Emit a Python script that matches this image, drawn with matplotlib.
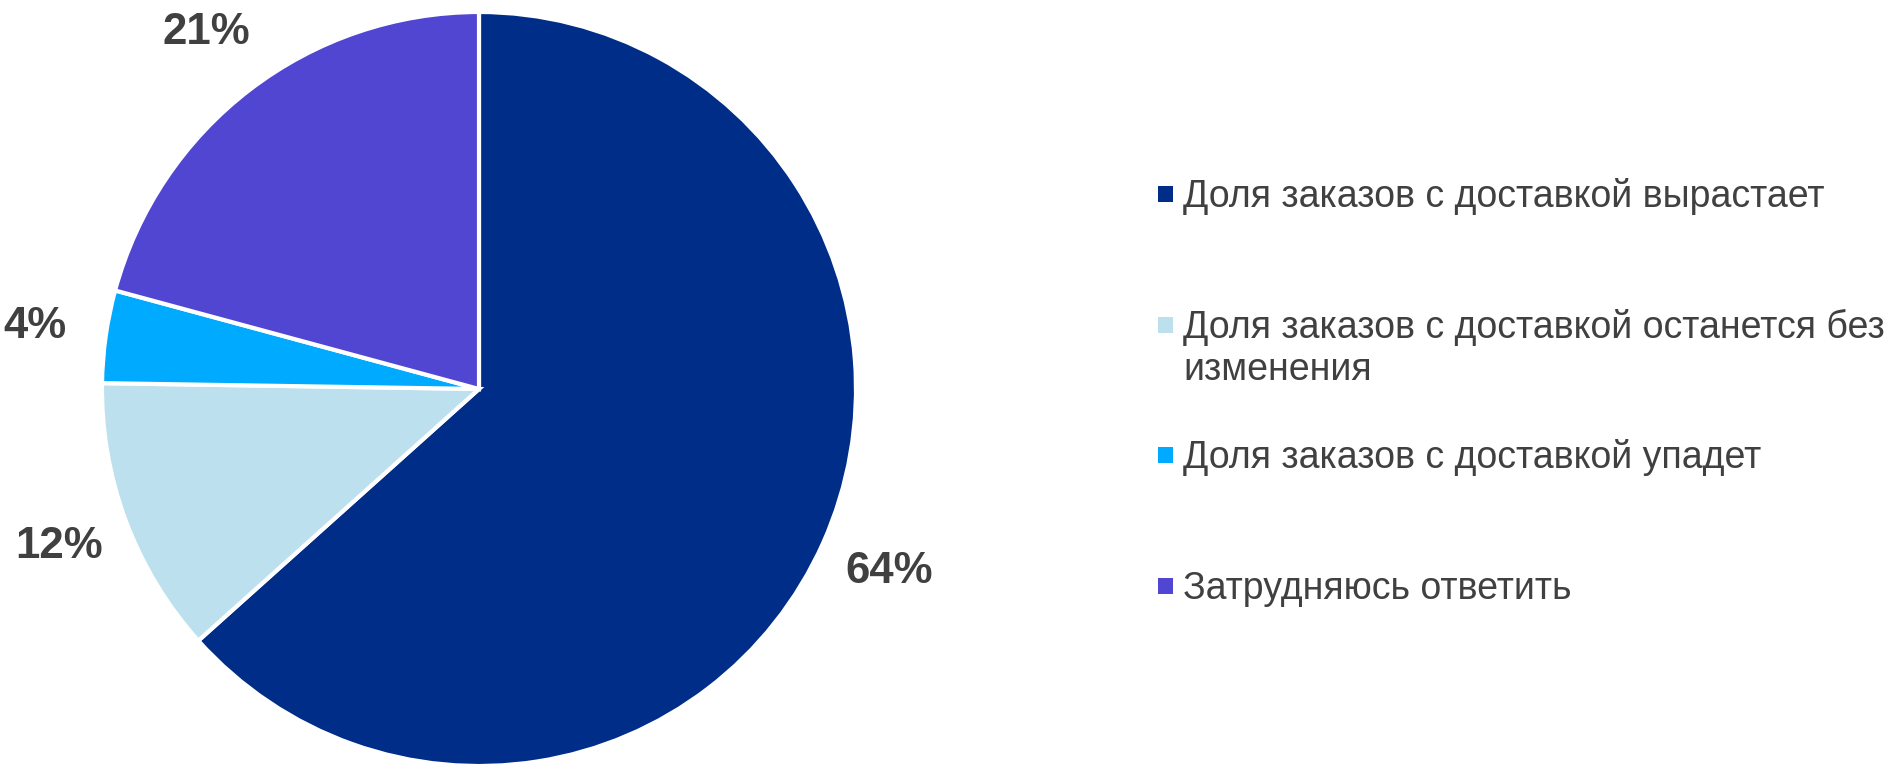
import matplotlib
matplotlib.use("Agg")
import numpy as np
import matplotlib.pyplot as plt
from matplotlib.patches import Rectangle

plt.rcParams["font.family"] = ["Liberation Sans", "DejaVu Sans"]

categories = [
    "Доля заказов с доставкой вырастает",
    "Доля заказов с доставкой останется без\nизменения",
    "Доля заказов с доставкой упадет",
    "Затрудняюсь ответить",
]
values = [64, 12, 4, 21]
colors = ["#002D87", "#BDE0EE", "#00AAFF", "#5046D2"]
pct_labels = ["64%", "12%", "4%", "21%"]

text_color = "#404040"

W, H = 1887, 764
fig = plt.figure(figsize=(W / 100, H / 100), dpi=100)

# pie axes: center (479, 389) px, radius 377 px
cx, cy, r = 479, 389, 377
ax = fig.add_axes([(cx - r) / W, (H - cy - r) / H, 2 * r / W, 2 * r / H])

wedges, _ = ax.pie(
    values,
    colors=colors,
    startangle=90,
    counterclock=False,
    wedgeprops=dict(edgecolor="white", linewidth=3),
)
ax.set_xlim(-1, 1)
ax.set_ylim(-1, 1)
ax.set_aspect("equal")
ax.axis("off")

# percentage labels outside the wedges
total = sum(values)
angle = 90.0
for w, lab in zip(values, pct_labels):
    span = w / total * 360
    mid = np.deg2rad(angle - span / 2)
    angle -= span
    d = 1.19
    ax.text(d * np.cos(mid), d * np.sin(mid), lab, ha="center", va="center",
            fontsize=31.5, fontweight="bold", color=text_color, clip_on=False)

# legend drawn by hand so the marker sits on the first line
row0, step, line_h = 194, 130.7, 42
for i, (lab, col) in enumerate(zip(categories, colors)):
    yc = row0 + i * step
    fig.add_artist(Rectangle((1158 / W, 1 - (yc + 8) / H), 15 / W, 16 / H,
                             transform=fig.transFigure, facecolor=col,
                             edgecolor="none"))
    for j, line in enumerate(lab.split("\n")):
        fig.text(1183 / W, 1 - (yc + 13 + j * line_h) / H, line,
                 ha="left", va="baseline", fontsize=27, color=text_color)

fig.savefig("out.png", dpi=100)
